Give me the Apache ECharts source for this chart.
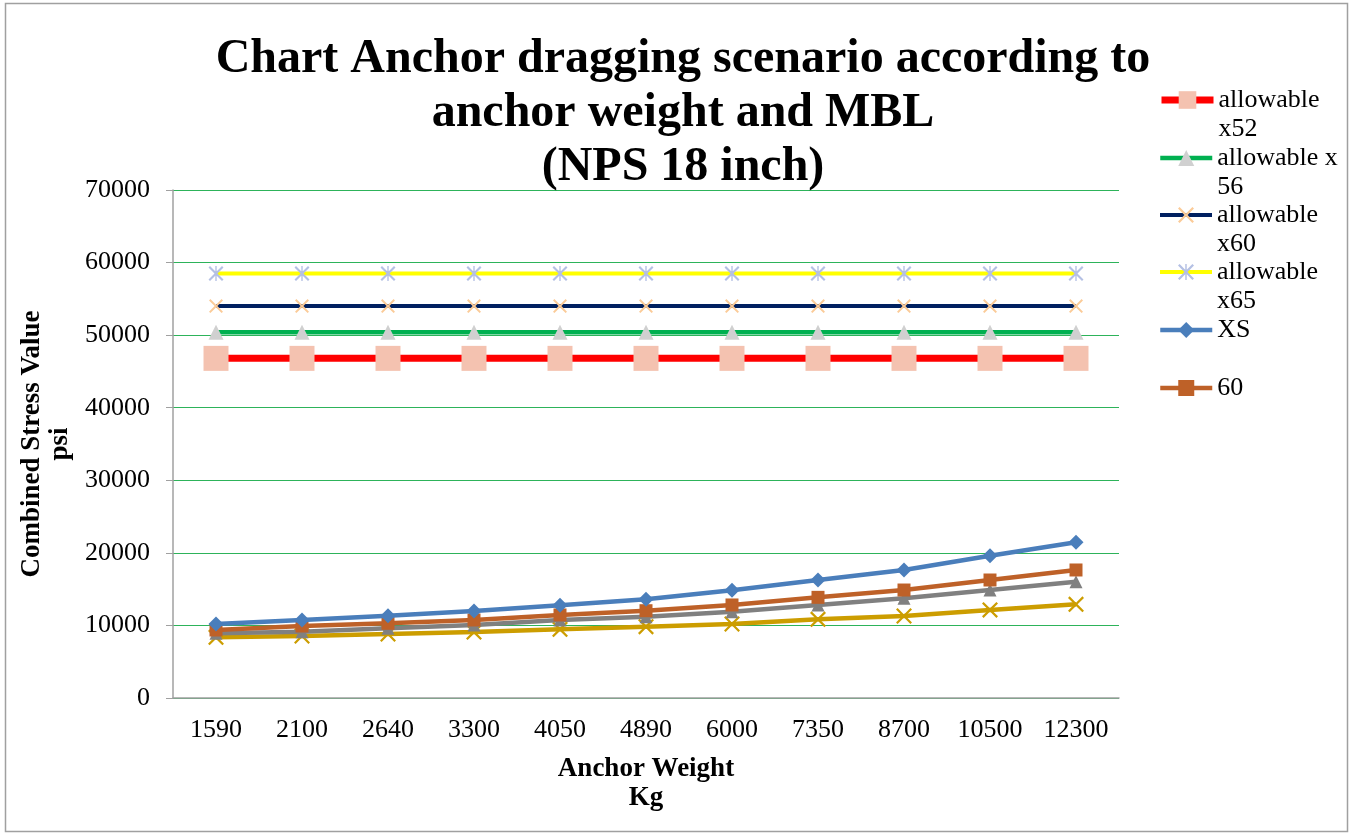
<!DOCTYPE html>
<html>
<head>
<meta charset="utf-8">
<script src="https://cdn.jsdelivr.net/npm/echarts@6/dist/echarts.min.js"></script>
<style>
  html, body { margin: 0; padding: 0; background: #fff; }
  #chart { width: 1353px; height: 837px; }
</style>
</head>
<body>
<div id="chart"></div>
<script>
// Anchor weights (kg) on the category axis
const anchorWeights = ['1590', '2100', '2640', '3300', '4050', '4890', '6000', '7350', '8700', '10500', '12300'];

// Allowable stress limits (psi), constant across weights
const allowX52 = [46800, 46800, 46800, 46800, 46800, 46800, 46800, 46800, 46800, 46800, 46800];
const allowX56 = [50400, 50400, 50400, 50400, 50400, 50400, 50400, 50400, 50400, 50400, 50400];
const allowX60 = [54000, 54000, 54000, 54000, 54000, 54000, 54000, 54000, 54000, 54000, 54000];
const allowX65 = [58500, 58500, 58500, 58500, 58500, 58500, 58500, 58500, 58500, 58500, 58500];

// Combined stress (psi) by pipe schedule
const stressXS   = [10200, 10750, 11340, 11990, 12770, 13600, 14840, 16260, 17640, 19610, 21450];
const stress60   = [9370, 9920, 10290, 10750, 11440, 12030, 12820, 13870, 14880, 16260, 17640];
const stressGray = [8910, 9140, 9600, 10060, 10750, 11200, 11890, 12820, 13740, 14880, 16030];
const stressGold = [8360, 8540, 8820, 9090, 9460, 9830, 10200, 10840, 11300, 12130, 12910];

// Y-axis ticks
const yMin = 0, yMax = 70000, yStep = 10000;

const serif = '"Liberation Serif", "Times New Roman", serif';

// Cross and asterisk markers as filled outlines
const crossPath = 'path://M0,1 L1,0 L5,4 L9,0 L10,1 L6,5 L10,9 L9,10 L5,6 L1,10 L0,9 L4,5 Z';
const starPath = 'path://M0,1 L1,0 L5,4 L9,0 L10,1 L6,5 L10,9 L9,10 L5,6 L1,10 L0,9 L4,5 Z M4.55,0 L5.45,0 L5.45,10 L4.55,10 Z';

function lineSeries(name, data, color, width, symbol, symbolSize, symbolColor, z) {
  return {
    name: name,
    type: 'line',
    data: data,
    symbol: symbol,
    symbolSize: symbolSize,
    showAllSymbol: true,
    z: z,
    lineStyle: { color: color, width: width },
    itemStyle: { color: symbolColor, borderWidth: 0 },
    emphasis: { disabled: true },
    animation: false
  };
}

const series = [
  lineSeries('allowable x52', allowX52, '#FF0000', 7, 'rect', 25, '#F4C2B0', 3),
  lineSeries('allowable x 56', allowX56, '#00B050', 4.5, 'triangle', 15, '#D0D0D0', 3),
  lineSeries('allowable x60', allowX60, '#002060', 4, crossPath, 14, '#FBCB98', 3),
  lineSeries('allowable x65', allowX65, '#FFFF00', 4, starPath, 15, '#B4C0E4', 3),
  lineSeries('XS', stressXS, '#4A7EBB', 4.5, 'diamond', 15, '#4A7EBB', 6),
  lineSeries('60', stress60, '#BE6128', 4.5, 'rect', 13, '#BE6128', 5),
  lineSeries('S40', stressGray, '#808080', 4.5, 'triangle', 13, '#808080', 4),
  lineSeries('STD', stressGold, '#CC9D00', 4.5, crossPath, 16, '#CC9D00', 3)
];

// Legend entries with their wrapped labels
const legendNames = ['allowable x52', 'allowable x 56', 'allowable x60', 'allowable x65', 'XS', '60'];
const legendText = {
  'allowable x52': ' \nallowable\nx52',
  'allowable x 56': ' \nallowable x\n56',
  'allowable x60': ' \nallowable\nx60',
  'allowable x65': ' \nallowable\nx65',
  'XS': 'XS',
  '60': '60'
};
const legendCenters = [100, 158, 215, 272, 330, 388];
const legendLineWidths = [7, 4.5, 4, 4, 4.5, 4.5];
const legendSymbolHeights = [22, 20, 20, 20, 20, 20];
const lineH = 29;

const legends = legendNames.map(function (n, i) {
  const lines = legendText[n].split('\n').length;
  const boxH = Math.max(lines * lineH, legendSymbolHeights[i]);
  return {
    data: [n],
    orient: 'vertical',
    left: 1158,
    top: legendCenters[i] - boxH / 2,
    padding: 0,
    itemWidth: 52,
    itemHeight: legendSymbolHeights[i],
    itemGap: 0,
    selectedMode: false,
    lineStyle: { width: legendLineWidths[i] },
    formatter: function (name) { return legendText[name]; },
    textStyle: {
      fontFamily: serif,
      fontSize: 26,
      color: '#000',
      lineHeight: lineH
    }
  };
});

const chart = echarts.init(document.getElementById('chart'), null, { renderer: 'canvas' });

chart.setOption({
  backgroundColor: '#fff',
  animation: false,
  title: {
    text: 'Chart Anchor dragging scenario according to\nanchor weight and MBL\n(NPS 18 inch)',
    left: 683,
    textAlign: 'center',
    top: 33,
    padding: 0,
    textStyle: {
      fontFamily: serif,
      fontSize: 48,
      fontWeight: 'bold',
      color: '#000',
      lineHeight: 54
    }
  },
  legend: legends,
  grid: {
    left: 173,
    top: 190,
    width: 946,
    height: 508,
    containLabel: false,
    outerBoundsMode: 'none'
  },
  xAxis: {
    type: 'category',
    data: anchorWeights,
    boundaryGap: true,
    name: 'Anchor Weight\nKg',
    nameLocation: 'middle',
    nameGap: 57,
    nameTextStyle: {
      fontFamily: serif,
      fontSize: 27,
      fontWeight: 'bold',
      color: '#000',
      lineHeight: 29
    },
    axisLine: { show: true, lineStyle: { color: '#A0A0A0', width: 1.5 } },
    axisTick: { show: false },
    axisLabel: {
      fontFamily: serif,
      fontSize: 26,
      color: '#000',
      margin: 19
    },
    splitLine: { show: false }
  },
  yAxis: {
    type: 'value',
    min: yMin,
    max: yMax,
    interval: yStep,
    name: 'Combined Stress Value\npsi',
    nameLocation: 'middle',
    nameGap: 87,
    nameTextStyle: {
      fontFamily: serif,
      fontSize: 27,
      fontWeight: 'bold',
      color: '#000',
      lineHeight: 28
    },
    axisLine: { show: true, lineStyle: { color: '#A0A0A0', width: 1.5 } },
    axisTick: { show: true, length: 7, inside: false, lineStyle: { color: '#A0A0A0' } },
    axisLabel: {
      fontFamily: serif,
      fontSize: 26,
      color: '#000',
      margin: 23,
      formatter: function (v) { return String(v); }
    },
    splitLine: { show: true, lineStyle: { color: '#2DB35A', width: 1.2 } }
  },
  graphic: [{
    type: 'rect',
    shape: { x: 5.5, y: 3.5, width: 1342, height: 828 },
    style: { fill: 'none', stroke: '#A0A0A0', lineWidth: 1.5 },
    silent: true,
    z: -1
  }],
  series: series
});
</script>
</body>
</html>
